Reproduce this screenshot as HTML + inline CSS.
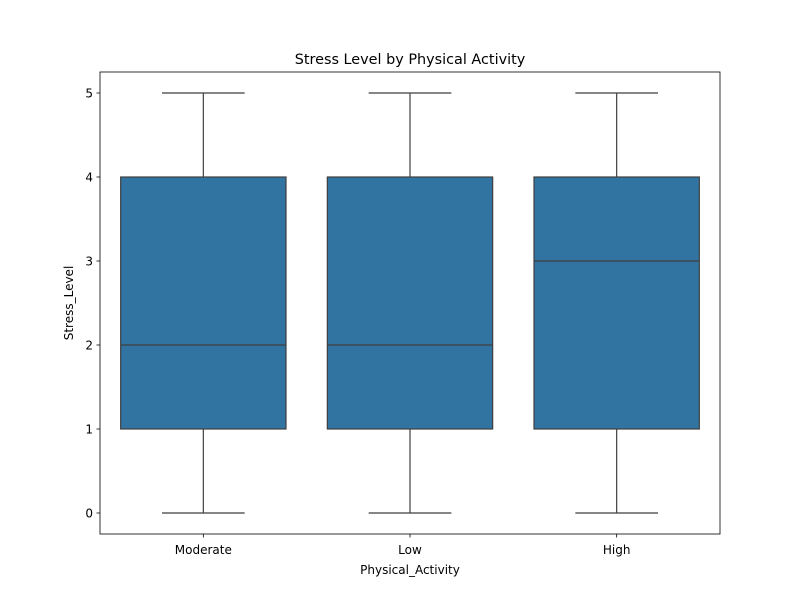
<!DOCTYPE html>
<html><head><meta charset="utf-8"><style>
html,body{margin:0;padding:0;background:#fff;}
svg{display:block;font-family:"DejaVu Sans","Liberation Sans",sans-serif;}
</style></head><body>
<svg id="chart" width="800" height="600" viewBox="0 0 800 600" xmlns="http://www.w3.org/2000/svg">
<rect x="0" y="0" width="800" height="600" fill="#fff"/>
<text x="410" y="64" text-anchor="middle" font-size="14.4" fill="#000">Stress Level by Physical Activity</text>
<g id="marks"></g>
<rect x="100" y="72" width="620" height="462" fill="none" stroke="#000" stroke-width="0.8"/>
<g id="axes"></g>
<text x="410" y="574" text-anchor="middle" font-size="12" fill="#000">Physical_Activity</text>
<text transform="translate(73,303) rotate(-90)" text-anchor="middle" font-size="12" fill="#000">Stress_Level</text>
</svg>
<script>
const categories = ["Moderate", "Low", "High"];
const mins = [0, 0, 0];
const q1s = [1, 1, 1];
const medians = [2, 2, 3];
const q3s = [4, 4, 4];
const maxs = [5, 5, 5];
const yTicks = [0, 1, 2, 3, 4, 5];

const NS = "http://www.w3.org/2000/svg";
const plotLeft = 100, plotRight = 720, plotTop = 72, plotBottom = 534;
const yMin = -0.25, yMax = 5.25;
const band = (plotRight - plotLeft) / categories.length;
function xScale(i) { return plotLeft + band * (i + 0.5); }
function yScale(v) { return plotBottom - (v - yMin) / (yMax - yMin) * (plotBottom - plotTop); }
function mk(tag, attrs, parent) {
  const e = document.createElementNS(NS, tag);
  for (const k in attrs) e.setAttribute(k, attrs[k]);
  parent.appendChild(e);
  return e;
}
const marks = document.getElementById("marks");
const axes = document.getElementById("axes");
const boxW = band * 0.8, capW = boxW / 2;
const strokeCol = "#3f3f3f";
categories.forEach((c, i) => {
  const cx = xScale(i);
  const g = mk("g", {}, marks);
  
  
  const w1 = mk("line", {x1: cx, x2: cx, y1: yScale(mins[i]), y2: yScale(q1s[i]), stroke: strokeCol, "stroke-width": 1.2}, g);
  
  
  const w2 = mk("line", {x1: cx, x2: cx, y1: yScale(q3s[i]), y2: yScale(maxs[i]), stroke: strokeCol, "stroke-width": 1.2}, g);
  
  
  const c1 = mk("line", {x1: cx - capW / 2, x2: cx + capW / 2, y1: yScale(mins[i]), y2: yScale(mins[i]), stroke: strokeCol, "stroke-width": 1.2}, g);
  
  
  const c2 = mk("line", {x1: cx - capW / 2, x2: cx + capW / 2, y1: yScale(maxs[i]), y2: yScale(maxs[i]), stroke: strokeCol, "stroke-width": 1.2}, g);
  
  
  const b = mk("rect", {x: cx - boxW / 2, y: yScale(q3s[i]), width: boxW, height: yScale(q1s[i]) - yScale(q3s[i]), fill: "#3274a1", stroke: strokeCol, "stroke-width": 1.2}, g);
  
  
  const m = mk("line", {x1: cx - boxW / 2, x2: cx + boxW / 2, y1: yScale(medians[i]), y2: yScale(medians[i]), stroke: strokeCol, "stroke-width": 1.2}, g);
  
  
  const t = mk("line", {x1: cx, x2: cx, y1: plotBottom, y2: plotBottom + 3.5, stroke: "#000", "stroke-width": 0.8}, axes);
  
  
  const l = mk("text", {x: cx, y: plotBottom + 20, "text-anchor": "middle", "font-size": 12, fill: "#000"}, axes);
  l.textContent = c;
  
  
});
yTicks.forEach(v => {
  const y = yScale(v);
  const t = mk("line", {x1: plotLeft - 3.5, x2: plotLeft, y1: y, y2: y, stroke: "#000", "stroke-width": 0.8}, axes);
  
  
  const l = mk("text", {x: plotLeft - 7, y: y + 4.5, "text-anchor": "end", "font-size": 12, fill: "#000"}, axes);
  l.textContent = v;
  
  
});
</script>
</body></html>
